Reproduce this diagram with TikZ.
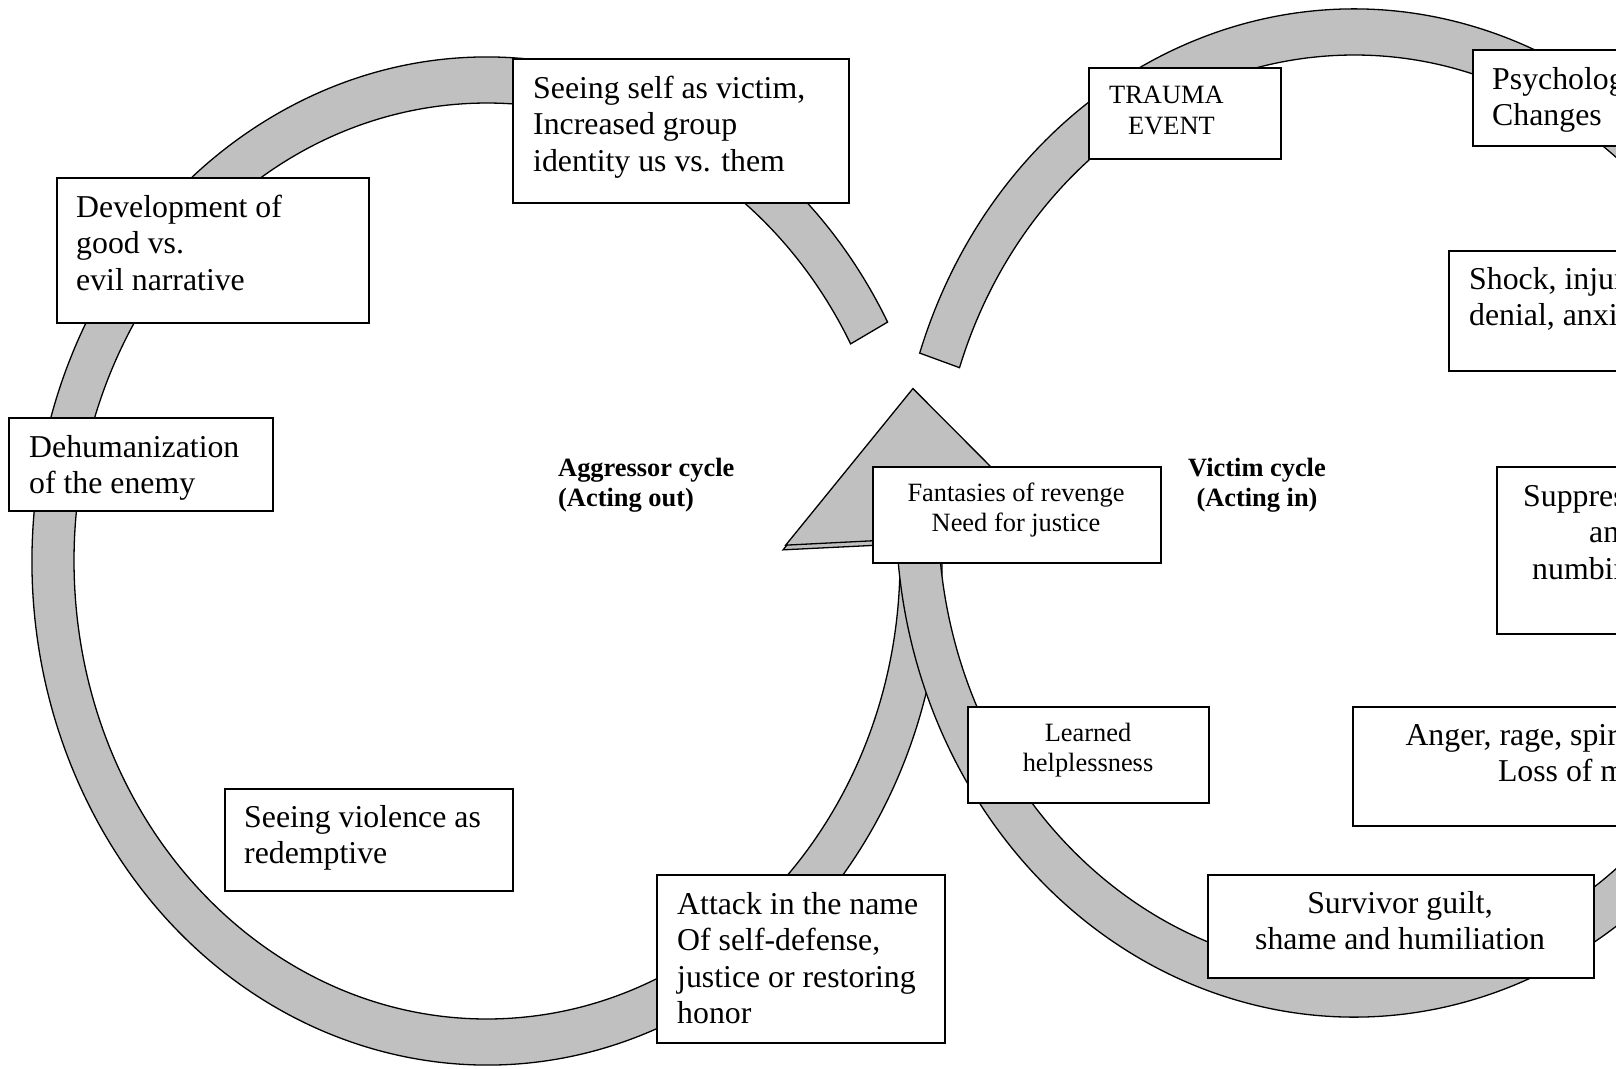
\documentclass[tikz,border=0pt]{standalone}
\usepackage{fontspec}
\setmainfont{Liberation Serif}
\usetikzlibrary{calc}
\definecolor{ringgrey}{RGB}{192,192,192}
\newcommand{\bigtext}{\fontsize{31.8}{36.6}\selectfont}
\newcommand{\smalltext}{\fontsize{26.4}{30.7}\selectfont}

\begin{document}
\begin{tikzpicture}[x=1pt,y=-1pt,
  band/.style={fill=ringgrey, draw=black, line width=1.3pt, line join=miter},
  card/.style={draw=black, fill=white, line width=2pt, inner sep=0pt, anchor=north west},
  % multi-line texts are placed by the baseline of their last line
  bigleft/.style={font=\bigtext, align=left, anchor=base west, inner sep=0pt},
  bigmid/.style={font=\bigtext, align=center, anchor=base, inner sep=0pt},
  smallleft/.style={font=\smalltext, align=left, anchor=base west, inner sep=0pt},
  smallmid/.style={font=\smalltext, align=center, anchor=base, inner sep=0pt},
  cyclelabel/.style={font=\smalltext\bfseries, inner sep=0pt}]

\useasboundingbox (0,0) rectangle (1616,1068);
\fill[white] (0,0) rectangle (1616,1068);
\clip (0,0) rectangle (1616,1068);

% ring centres
\coordinate (L) at (487,561);
\coordinate (V) at (1354,513);

% aggressor ring (runs anticlockwise from its tail at upper right)
\draw[band] ($(L)+(-28.3:455 and 504)$)
  arc[start angle=-28.3, end angle=-362.7, x radius=455, y radius=504]
  -- ($(L)+(-362.7:413 and 458)$)
  arc[start angle=-362.7, end angle=-28.3, x radius=413, y radius=458] -- cycle;

% victim ring (runs clockwise from its tail at upper left)
\draw[band] ($(V)+(-161.5:458 and 504)$)
  arc[start angle=-161.5, end angle=176.4, x radius=458, y radius=504]
  -- ($(V)+(176.4:416 and 458)$)
  arc[start angle=176.4, end angle=-161.5, x radius=416, y radius=458] -- cycle;

% arrow heads
\coordinate (Vm) at ($(V)+(176.4:437 and 481)$);
\coordinate (Vn) at ($(V)+(177.4:437 and 481)$);
\draw[band] ($(Vm)!135pt!90:(Vn)$) -- ($(Vm)!150pt!(Vn)$) -- ($(Vm)!135pt!-90:(Vn)$) -- cycle;

\coordinate (Lm) at ($(L)+(-362.7:434 and 481)$);
\coordinate (Ln) at ($(L)+(-363.7:434 and 481)$);
\draw[band] ($(Lm)!135pt!90:(Ln)$) -- ($(Lm)!150pt!(Ln)$) -- ($(Lm)!135pt!-90:(Ln)$) -- cycle;

% aggressor cycle boxes
\node[card, minimum width=336pt, minimum height=144pt] (selfvictim) at (512,58) {};
\node[bigleft] (selfvictimT) at (533,171.2) {Seeing self as victim,\\Increased group\\identity us vs. them};

\node[card, minimum width=312pt, minimum height=145pt] (narrative) at (56,177) {};
\node[bigleft] (narrativeT) at (76,290.2) {Development of\\good vs.\\evil narrative};

\node[card, minimum width=264pt, minimum height=93pt] (dehuman) at (8,417) {};
\node[bigleft] (dehumanT) at (29,493.6) {Dehumanization\\of the enemy};

\node[card, minimum width=288pt, minimum height=102pt] (violence) at (224,788) {};
\node[bigleft] (violenceT) at (244,863.6) {Seeing violence as\\redemptive};

\node[card, minimum width=288pt, minimum height=168pt] (attack) at (656,874) {};
\node[bigleft] (attackT) at (677,1023.8) {Attack in the name\\Of self-defense,\\justice or restoring\\honor};

\node[card, minimum width=288pt, minimum height=96pt] (revenge) at (872,466) {};
\node[smallmid] (revengeT) at (1016,531.7) {Fantasies of revenge\\Need for justice};

% victim cycle boxes
\node[card, minimum width=192pt, minimum height=91pt] (trauma) at (1088,67) {};
\node[smallleft] (traumaT) at (1109,134.5) {TRAUMA\\\hspace*{19pt}EVENT};

\node[card, minimum width=200pt, minimum height=96pt] (psych) at (1472,49) {};
\node[bigleft] (psychT) at (1492,125.6) {Psychological\\Changes};

\node[card, minimum width=220pt, minimum height=120pt] (shock) at (1448,250) {};
\node[bigleft] (shockT) at (1469,325.6) {Shock, injury,\\denial, anxiety};

\node[card, minimum width=200pt, minimum height=167pt] (suppress) at (1496,466) {};
\node[bigleft] (suppressT) at (1523,579.2) {Suppression\\\hspace*{66pt}and\\\hspace*{9pt}numbing};

\node[card, minimum width=320pt, minimum height=119pt] (anger) at (1352,706) {};
\node[bigmid] (angerT) at (1604,781.6) {Anger, rage, spiritual questions\\Loss of meaning};

\node[card, minimum width=386pt, minimum height=103pt] (guilt) at (1207,874) {};
\node[bigmid] (guiltT) at (1400,949.6) {Survivor guilt,\\shame and humiliation};

\node[card, minimum width=241pt, minimum height=96pt] (helpless) at (967,706) {};
\node[smallmid] (helplessT) at (1088,771.7) {Learned\\helplessness};

% cycle titles
\node[cyclelabel, align=left, anchor=base west] (aggressor) at (558,506.7) {Aggressor cycle\\(Acting out)};
\node[cyclelabel, align=center, anchor=base] (victim) at (1257,506.7) {Victim cycle\\(Acting in)};

\end{tikzpicture}
\end{document}
